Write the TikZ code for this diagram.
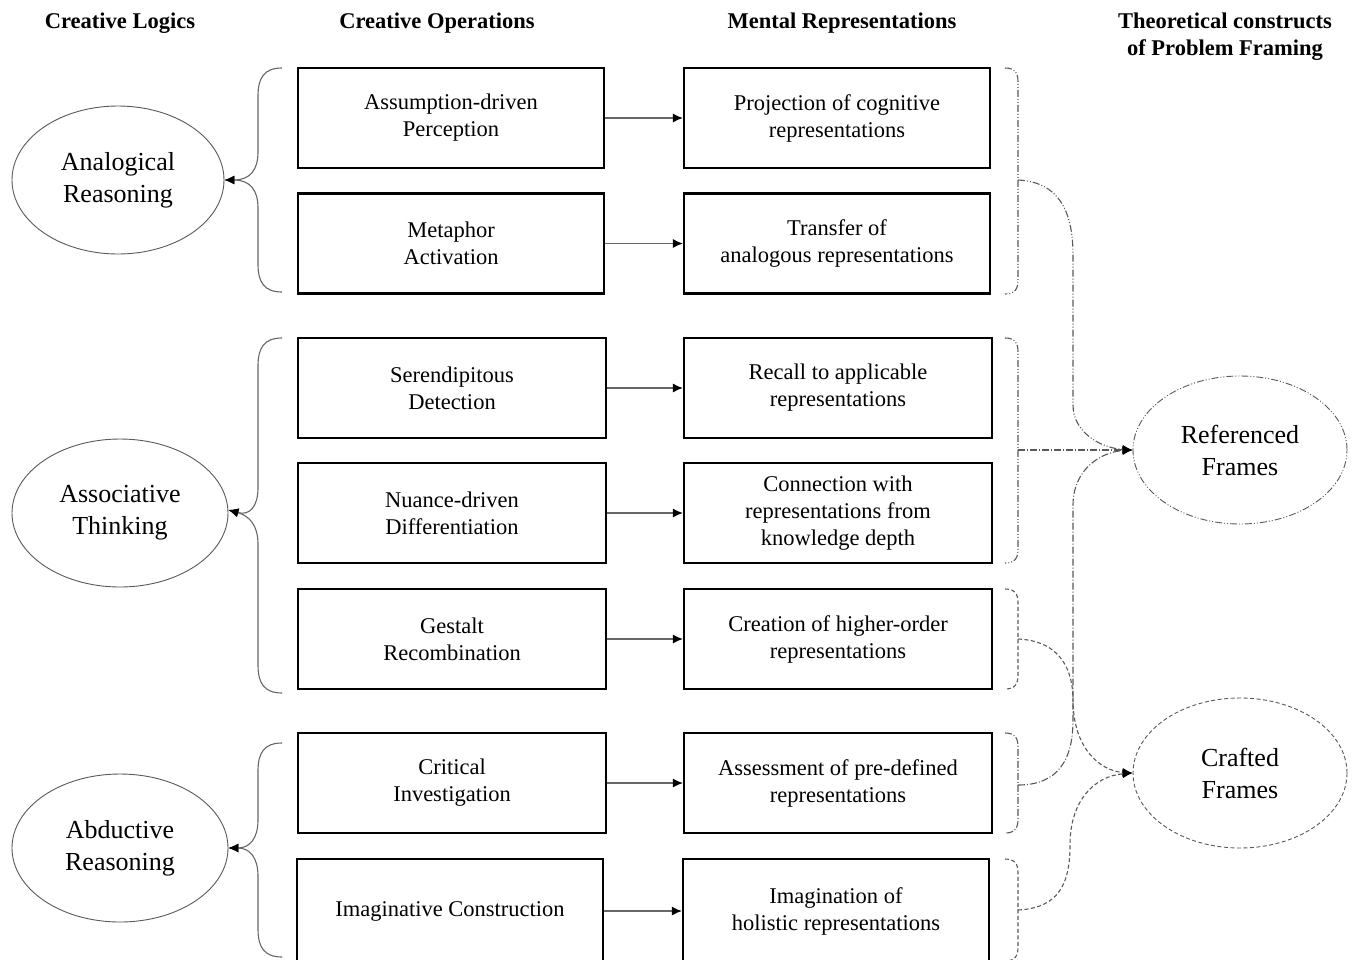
\documentclass[tikz,border=0pt]{standalone}
\usepackage{fontspec}
\setmainfont{Liberation Serif}
\usetikzlibrary{arrows.meta,shapes.geometric}
\begin{document}
\begin{tikzpicture}[x=1pt,y=-1pt,
  opbox/.style={draw=black, line width=2.2pt, minimum width=306pt, minimum height=100pt,
    inner sep=0pt, align=center, font=\fontsize{22.5}{27}\selectfont},
  widebox/.style={opbox, minimum width=308pt},
  logic/.style={ellipse, draw=black!65, line width=0.9pt, minimum width=212pt, minimum height=148pt,
    inner sep=0pt, align=center, font=\fontsize{26}{32}\selectfont},
  frame/.style={logic, line width=0.9pt, minimum width=214pt, minimum height=148pt},
  head/.style={font=\bfseries\fontsize{22.5}{27}\selectfont, align=center},
  tip/.style={-{Latex[length=10pt,width=9pt,color=black]}},
  flow/.style={draw=black!60, line width=1.2pt, tip},
  brace/.style={draw=black!60, line width=1.1pt},
  ddot/.style={dash pattern=on 7pt off 2pt on 1pt off 2pt on 1pt off 2pt},
  ddash/.style={dash pattern=on 7pt off 2pt on 1pt off 2pt},
  sdash/.style={dash pattern=on 4pt off 2.5pt},
  rlink/.style={draw=black!65, line width=1.1pt},
]
\useasboundingbox (0,0) rectangle (1354,959);

% column headings
\node[head] (h1) at (120,23) {Creative Logics};
\node[head] (h2) at (437,23) {Creative Operations};
\node[head] (h3) at (842,23) {Mental Representations};
\node[head] (h4) at (1225,37) {Theoretical constructs\\of Problem Framing};

% creative logics
\node[logic] (l1) at (118,180) {Analogical\\Reasoning};
\node[logic, minimum width=216pt] (l2) at (120,513) {Associative\\Thinking};
\node[logic, minimum width=216pt] (l3) at (120,848) {Abductive\\Reasoning};

% creative operations
\node[opbox] (o1) at (451,118) {Assumption-driven\\Perception};
\node[opbox] (o2) at (451,243.5) {Metaphor\\Activation};
\node[widebox] (o3) at (452,388) {Serendipitous\\Detection};
\node[widebox] (o4) at (452,513) {Nuance-driven\\Differentiation};
\node[widebox] (o5) at (452,639) {Gestalt\\Recombination};
\node[widebox] (o6) at (452,783) {Critical\\Investigation};
\node[opbox, minimum height=104pt] (o7) at (450,911) {Imaginative Construction};

% mental representations
\node[opbox] (m1) at (837,118) {Projection of cognitive\\representations};
\node[opbox] (m2) at (837,243.5) {Transfer of\\analogous representations};
\node[widebox] (m3) at (838,388) {Recall to applicable\\representations};
\node[widebox] (m4) at (838,513) {Connection with\\representations from\\knowledge depth};
\node[widebox] (m5) at (838,639) {Creation of higher-order\\representations};
\node[widebox] (m6) at (838,783) {Assessment of pre-defined\\representations};
\node[opbox, minimum height=104pt] (m7) at (836,911) {Imagination of\\holistic representations};

% problem framing constructs
\node[frame, draw=black!65, ddot] (rf) at (1240,450) {Referenced\\Frames};
\node[frame, draw=black!65, sdash, minimum height=150pt] (cf) at (1240,773) {Crafted\\Frames};

% operation -> representation
\foreach \i in {1,...,7} \draw[flow] (o\i.east) -- (m\i.west);

% left braces gathering operations into logics
\coordinate (la) at (282,68);  \coordinate (lb) at (282,292);
\coordinate (lc) at (282,338); \coordinate (ld) at (282,693);
\coordinate (le) at (282,743); \coordinate (lf) at (282,957);
\draw[brace, tip] (la) .. controls (264,68) and (258,78) .. (258,96) -- (258,152)
  .. controls (258,170) and (250,180) .. (l1.east);
\draw[brace, tip] (lb) .. controls (264,292) and (258,282) .. (258,264) -- (258,208)
  .. controls (258,190) and (250,180) .. (l1.east);
\draw[brace, tip] (lc) .. controls (264,338) and (258,348) .. (258,366) -- (258,488)
  .. controls (258,506) and (250,516) .. ([yshift=3pt]l2.east);
\draw[brace, tip] (ld) .. controls (264,693) and (258,683) .. (258,665) -- (258,544)
  .. controls (258,526) and (250,516) .. ([yshift=3pt]l2.east);
\draw[brace, tip] (le) .. controls (264,743) and (258,753) .. (258,771) -- (258,820)
  .. controls (258,838) and (250,848) .. (l3.east);
\draw[brace, tip] (lf) .. controls (264,957) and (258,947) .. (258,929) -- (258,876)
  .. controls (258,858) and (250,848) .. (l3.east);

% right braces: #1 style, #2 top, #3 bottom
\newcommand{\rightbrace}[3]{%
  \draw[rlink,#1] (1005,#2) .. controls (1015,#2) and (1018,#2+5) .. (1018,#2+14)
    -- (1018,#3-14) .. controls (1018,#3-5) and (1015,#3) .. (1005,#3);}
\rightbrace{ddot}{68}{294}
\rightbrace{ddot}{338}{563}
\rightbrace{sdash}{589}{689}
\rightbrace{ddash}{733}{833}
\rightbrace{sdash}{859}{961}

\coordinate (r1) at (1018,180);
\coordinate (r2) at (1018,450);
\coordinate (r3) at (1018,639);
\coordinate (r4) at (1018,785);
\coordinate (r5) at (1018,910);

% representations -> problem framing
\draw[rlink, ddot, tip] (r1) .. controls (1058,182) and (1073,210) .. (1073,255) -- (1073,405)
  .. controls (1073,432) and (1100,448) .. (rf.west);
\draw[rlink, ddash, tip] (r2) -- (rf.west);
\draw[rlink, ddash, tip] (r4) .. controls (1058,785) and (1073,760) .. (1073,720) -- (1073,505)
  .. controls (1073,470) and (1100,452) .. (rf.west);
\draw[rlink, sdash, tip] (r3) .. controls (1062,641) and (1073,672) .. (1073,700)
  .. controls (1073,748) and (1100,771) .. (cf.west);
\draw[rlink, sdash, tip] (r5) .. controls (1060,908) and (1070,882) .. (1070,845)
  .. controls (1070,800) and (1095,776) .. (cf.west);
\end{tikzpicture}
\end{document}
